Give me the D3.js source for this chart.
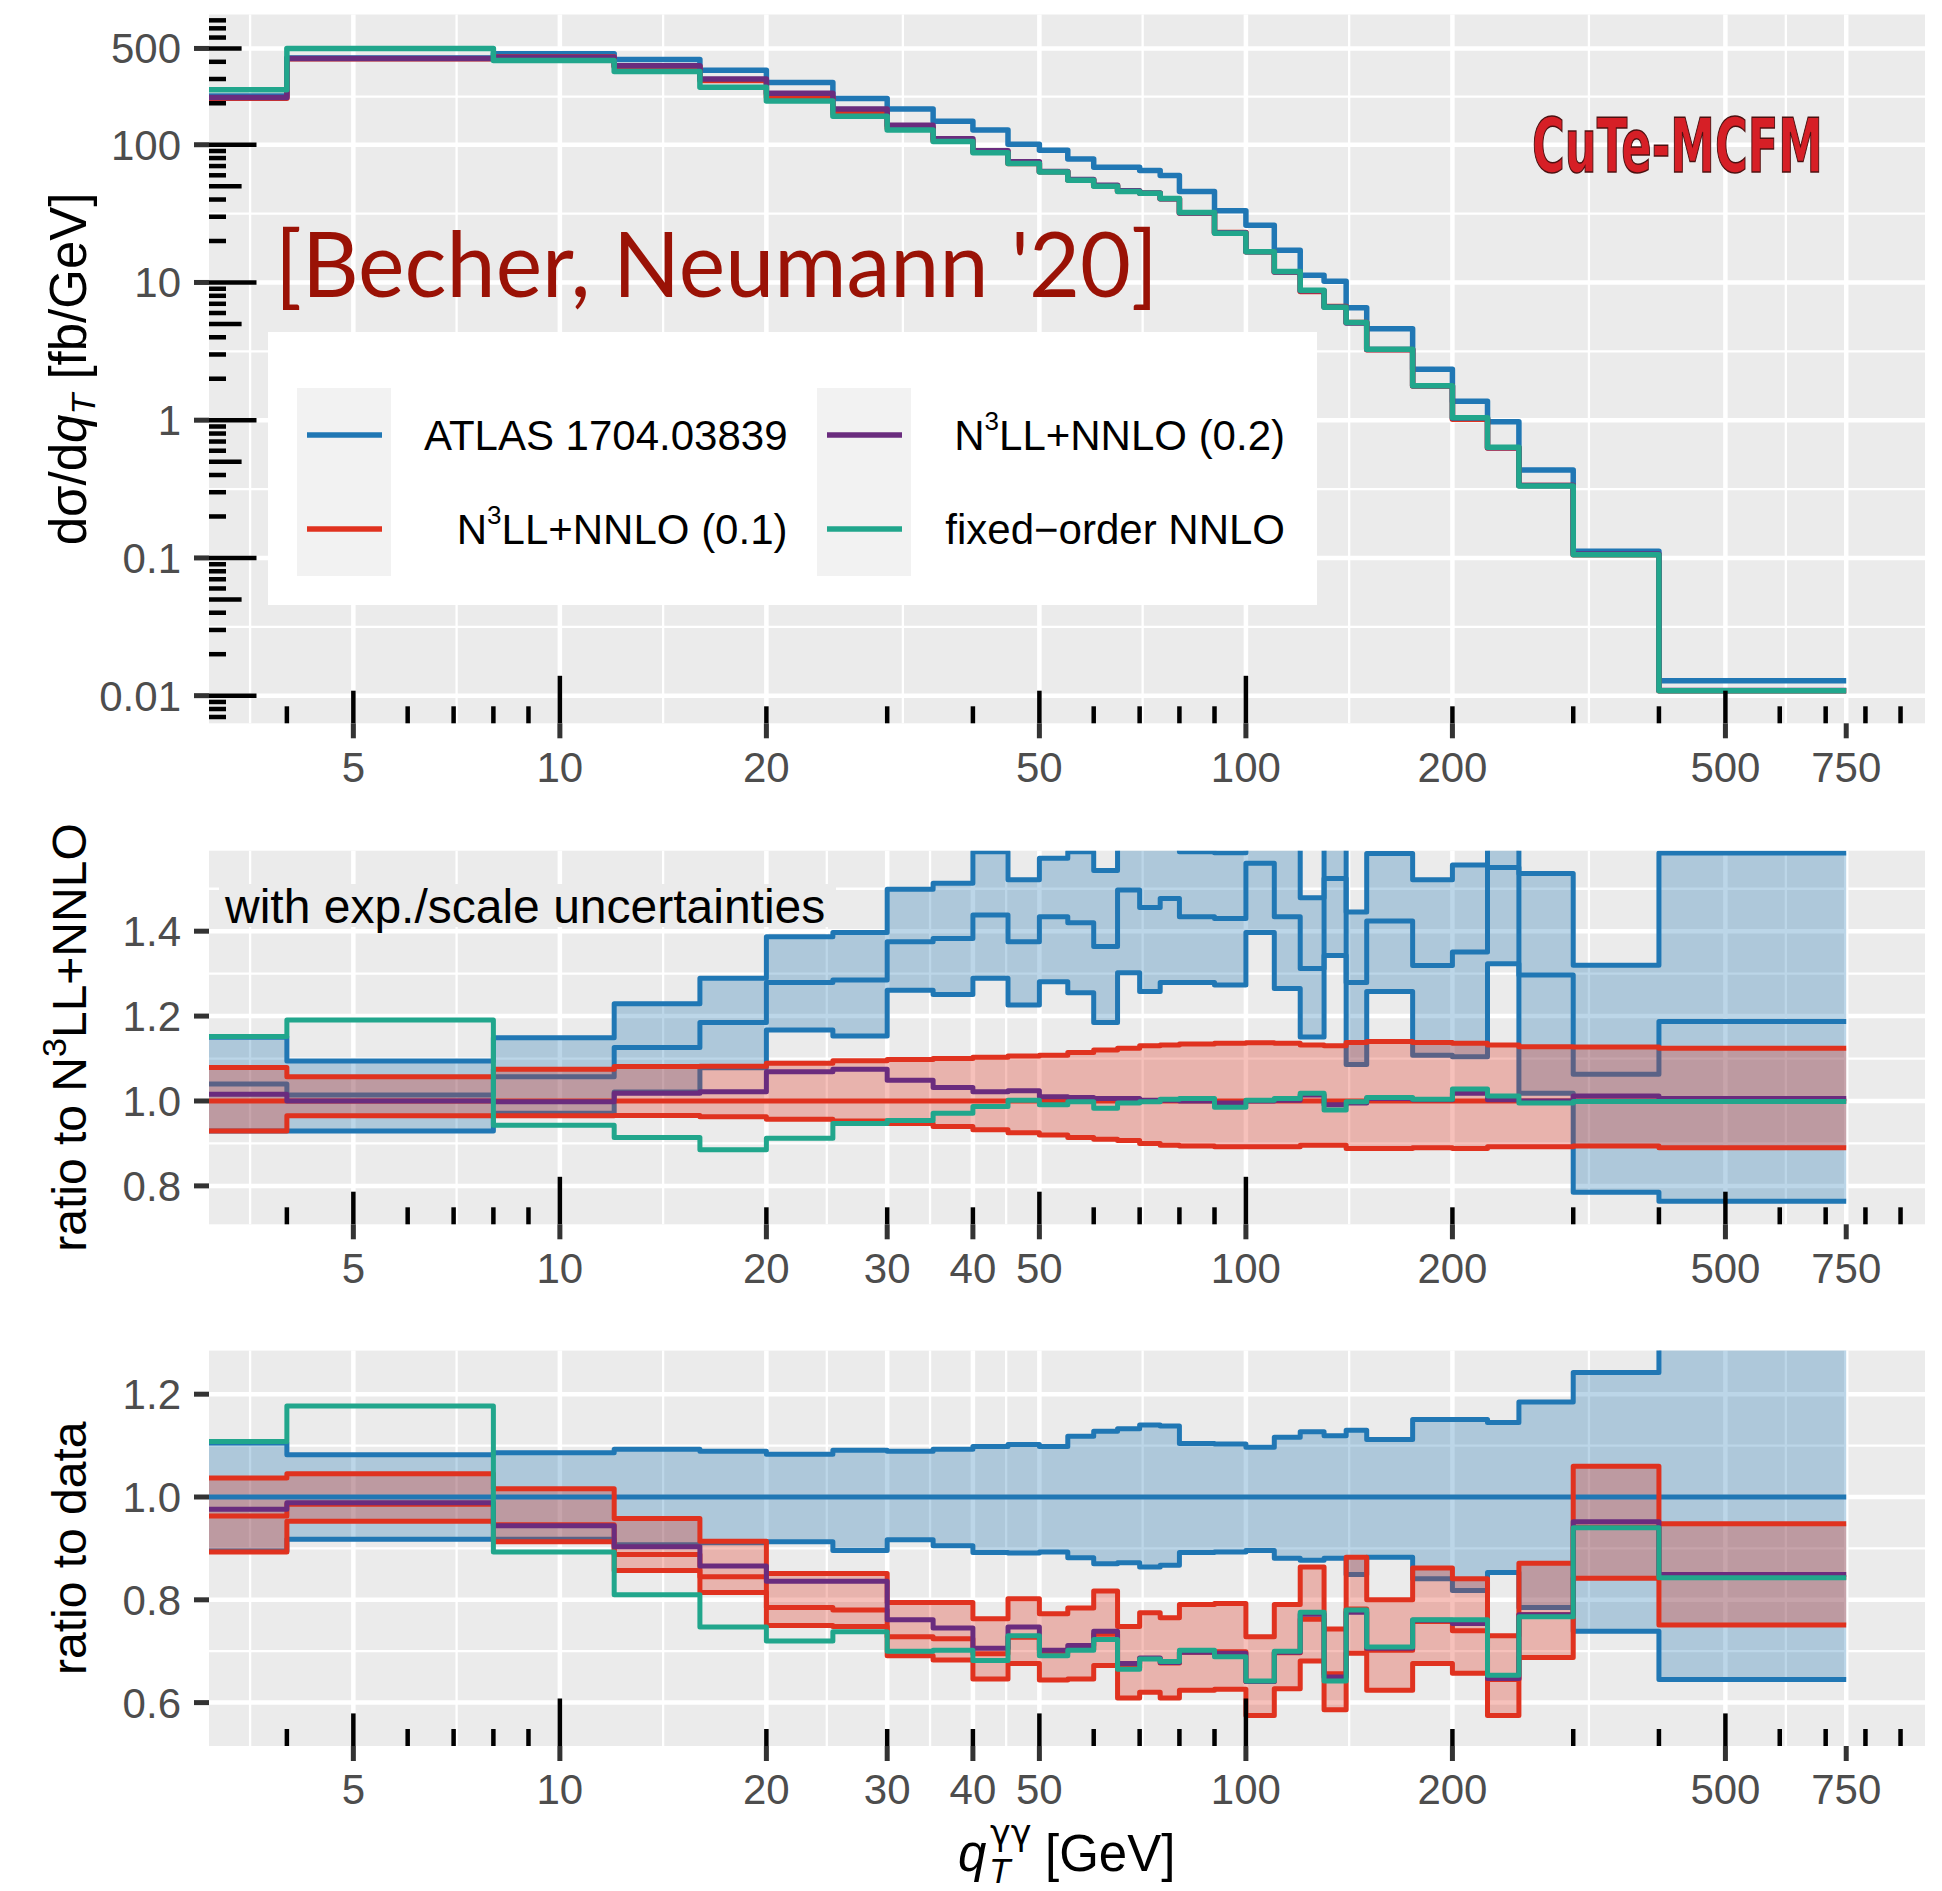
<!DOCTYPE html>
<html>
<head>
<meta charset="utf-8">
<script src="https://cdn.jsdelivr.net/npm/d3@7"></script>
<style>
body { margin:0; background:#fff; }
text { font-family: "Liberation Sans", Arial, Helvetica, sans-serif; }
</style>
</head>
<body>
<div id="chart-area"></div>
<script>
const width = 1942, height = 1891;

const colors = {atlas:'#2077b4', n3ll01:'#e0321f', n3ll02:'#6a2c7e', nnlo:'#21a68c'};

// bin edges in q_T [GeV]
const binEdges = [0,4,8,12,16,20,25,30,35,40,45,50,55,60,65,70,75,80,90,100,110,120,130,140,150,175,200,225,250,300,400,750];

// top panel: d sigma / d qT [fb/GeV]
const atlasXsec  = [226,427,458,415,347,283,217,182,148,128,100.6,91.2,78.8,68.7,68.7,64.9,59.8,45.8,33.1,26,17.1,11.3,10.2,6.55,4.62,2.34,1.37,0.975,0.434,0.112,0.01285];
const n3ll01Xsec = [217.6,421,433.3,368.5,293.2,222.2,169.3,132.5,107.2,89.0,73.1,63.6,55.5,50.4,45.9,44.5,40.5,32.0,23.1,16.7,11.9,8.61,6.69,5.12,3.24,1.774,1.014,0.629,0.335,0.1054,0.01085];
const n3ll02Xsec = [220.6,422.3,432.4,374.7,300.5,236.6,181.4,138.5,110.3,90.4,75.1,64.0,56.0,50.8,46.4,44.6,40.5,32.0,23.0,16.7,11.9,8.72,6.63,5.08,3.26,1.778,1.033,0.631,0.335,0.1066,0.01091];
const nnloXsec   = [251,500,409,340,261,208,161,128,105.5,87.3,73,63.5,55.3,50,45.7,44.5,40.7,32.2,22.8,16.7,12.0,8.77,6.6,5.11,3.27,1.78,1.043,0.637,0.333,0.1053,0.01084];

// middle panel: ratio to N3LL+NNLO (0.1)
const atlasMidC  = [1.040,1.014,1.057,1.126,1.185,1.279,1.285,1.375,1.383,1.438,1.375,1.434,1.420,1.364,1.497,1.456,1.477,1.434,1.430,1.560,1.434,1.312,1.524,1.279,1.424,1.319,1.351,1.550,1.297,1.063,1.187];
const atlasMidUp = [1.150,1.094,1.149,1.229,1.289,1.387,1.397,1.499,1.513,1.587,1.521,1.572,1.587,1.543,1.696,1.660,1.675,1.587,1.585,1.711,1.600,1.479,1.706,1.445,1.583,1.521,1.556,1.775,1.536,1.320,1.584];
const atlasMidDn = [0.929,0.929,0.971,1.021,1.078,1.167,1.153,1.261,1.251,1.289,1.226,1.281,1.255,1.185,1.302,1.258,1.279,1.279,1.273,1.397,1.265,1.151,1.343,1.086,1.258,1.108,1.104,1.323,1.018,0.785,0.764];
const n3ll01MidC  = [1,1,1,1,1,1,1,1,1,1,1,1,1,1,1,1,1,1,1,1,1,1,1,1,1,1,1,1,1,1,1];
const n3ll01MidUp = [1.079,1.057,1.075,1.081,1.082,1.089,1.095,1.098,1.100,1.103,1.106,1.108,1.114,1.120,1.124,1.130,1.132,1.134,1.136,1.137,1.136,1.132,1.130,1.138,1.140,1.138,1.136,1.132,1.128,1.127,1.124];
const n3ll01MidDn = [0.929,0.965,0.965,0.966,0.963,0.957,0.953,0.947,0.940,0.932,0.925,0.920,0.914,0.910,0.907,0.900,0.896,0.894,0.892,0.892,0.892,0.896,0.896,0.888,0.888,0.890,0.888,0.892,0.892,0.894,0.890];
const n3ll02Mid = [1.016,1.000,0.998,1.018,1.022,1.069,1.075,1.049,1.032,1.022,1.024,1.010,1.008,1.006,1.006,1.002,1.002,1.000,0.995,1.000,1.002,1.014,0.991,0.995,1.006,1.003,1.018,1.003,1.000,1.012,1.006];
const nnloMid   = [1.152,1.191,0.943,0.914,0.885,0.912,0.947,0.954,0.971,0.987,1.002,0.991,0.998,0.983,0.995,0.998,1.004,1.006,0.985,1.002,1.006,1.018,0.979,0.998,1.008,1.004,1.028,1.012,0.995,0.999,0.999];

// bottom panel: ratio to data
const atlasBotC  = [1,1,1,1,1,1,1,1,1,1,1,1,1,1,1,1,1,1,1,1,1,1,1,1,1,1,1,1,1,1,1];
const atlasBotUp = [1.105,1.082,1.086,1.093,1.089,1.083,1.091,1.089,1.093,1.098,1.102,1.098,1.118,1.128,1.133,1.140,1.138,1.104,1.103,1.097,1.116,1.127,1.119,1.130,1.112,1.151,1.151,1.145,1.185,1.242,1.337];
const atlasBotDn = [0.895,0.918,0.918,0.907,0.911,0.913,0.896,0.917,0.905,0.892,0.891,0.893,0.882,0.870,0.872,0.864,0.867,0.892,0.893,0.896,0.881,0.877,0.881,0.849,0.883,0.841,0.818,0.853,0.785,0.739,0.645];
const n3ll01BotC  = [0.963,0.986,0.946,0.888,0.845,0.785,0.780,0.728,0.724,0.695,0.727,0.697,0.704,0.733,0.668,0.686,0.677,0.698,0.699,0.641,0.697,0.762,0.656,0.782,0.702,0.758,0.740,0.645,0.771,0.941,0.844];
const n3ll01BotUp = [1.037,1.045,1.016,0.958,0.914,0.851,0.851,0.795,0.795,0.763,0.802,0.773,0.784,0.817,0.748,0.775,0.765,0.791,0.793,0.728,0.791,0.864,0.743,0.883,0.800,0.862,0.841,0.730,0.871,1.060,0.948];
const n3ll01BotDn = [0.893,0.953,0.913,0.857,0.814,0.750,0.748,0.691,0.683,0.646,0.676,0.644,0.646,0.672,0.609,0.620,0.609,0.624,0.626,0.575,0.627,0.681,0.586,0.696,0.624,0.676,0.657,0.575,0.688,0.842,0.751];
const n3ll02Bot = [0.976,0.989,0.944,0.903,0.866,0.836,0.836,0.761,0.745,0.706,0.747,0.702,0.711,0.739,0.676,0.687,0.678,0.698,0.696,0.641,0.698,0.772,0.650,0.776,0.706,0.760,0.754,0.647,0.771,0.952,0.849];
const nnloBot   = [1.108,1.177,0.893,0.810,0.747,0.720,0.738,0.700,0.702,0.682,0.730,0.691,0.702,0.723,0.665,0.685,0.680,0.702,0.689,0.642,0.700,0.776,0.642,0.780,0.708,0.761,0.761,0.653,0.767,0.940,0.843];

// ticks
const xTicksTop = [5,10,20,50,100,200,500,750];
const xTicksRatio = [5,10,20,30,40,50,100,200,500,750];
const yTicksTop = [0.01,0.1,1,10,100,500];
const yLabelsTop = ['0.01','0.1','1','10','100','500'];
const yTicksMid = [0.8,1.0,1.2,1.4];
const yLabelsMid = ['0.8','1.0','1.2','1.4'];
const yTicksBot = [0.6,0.8,1.0,1.2];
const yLabelsBot = ['0.6','0.8','1.0','1.2'];

const legendItems = [
  {key:'atlas', label:'ATLAS 1704.03839'},
  {key:'n3ll01', label:'N|3|LL+NNLO (0.1)'},
  {key:'n3ll02', label:'N|3|LL+NNLO (0.2)'},
  {key:'nnlo', label:'fixed\u2212order NNLO'}
];

const plotLeft = 209, plotRight = 1925;
const panels = {
  top: {y0:14.5, y1:723.3},
  mid: {y0:850.7, y1:1224.3},
  bot: {y0:1350.6, y1:1746}
};

var svg = d3.select("#chart-area").append("svg")
    .attr("width", width)
    .attr("height", height);
var defs = svg.append("defs");

var x = d3.scaleLog().domain([3.08, 977]).range([plotLeft, plotRight]);
var yTop = d3.scaleLog().domain([0.0063, 882]).range([panels.top.y1, panels.top.y0]);
var yMid = d3.scaleLinear().domain([0.7095, 1.5896]).range([panels.mid.y1, panels.mid.y0]);
var yBot = d3.scaleLinear().domain([0.5156, 1.2848]).range([panels.bot.y1, panels.bot.y0]);

var edgeX = (e) => x(Math.max(e, x.domain()[0]));

function stepPts(vals){
  var pts = vals.map((v,i) => [binEdges[i], v]);
  pts.push([binEdges[binEdges.length-1], vals[vals.length-1]]);
  return pts;
}
function bandPts(lo, hi){
  var pts = lo.map((v,i) => [binEdges[i], v, hi[i]]);
  pts.push([binEdges[binEdges.length-1], lo[lo.length-1], hi[hi.length-1]]);
  return pts;
}

// midpoints between major breaks (ggplot style minor grid)
function minorBreaks(majors, scale, isLog){
  var f = isLog ? Math.log10 : (v) => v;
  var inv = isLog ? (v) => Math.pow(10, v) : (v) => v;
  var b = majors.map(f);
  var bd = b[1] - b[0];
  b = [b[0]-bd].concat(b).concat([b[b.length-1]+bd]);
  var dom = scale.domain(), out = [];
  for (var i = 0; i < b.length-1; i++){
    var v = inv((b[i]+b[i+1])/2);
    if (v > dom[0] && v < dom[1]) out.push(v);
  }
  return out;
}

function logTicks(scale){
  var dom = scale.domain(), out = [];
  for (var k = Math.floor(Math.log10(dom[0])); k <= Math.ceil(Math.log10(dom[1])); k++){
    for (var m = 1; m <= 9; m++){
      var v = m * Math.pow(10, k);
      if (v >= dom[0] && v <= dom[1]) out.push({v:v, len: m == 1 ? 47.5 : (m == 5 ? 32.6 : 17)});
    }
  }
  return out;
}

// squeeze a text horizontally to a given width, keeping its left edge
function fitWidth(t, x0, y0, w){
  var len = t.node().getComputedTextLength();
  t.attr("x", 0).attr("y", 0)
   .attr("transform", "translate(" + x0 + "," + y0 + ") scale(" + (w/len) + ",1)");
}

function drawFrame(name, y, yLog, xTicks, yTicks, yLabels){
  var p = panels[name];
  var g = svg.append("g");
  g.append("rect")
   .attr("x", plotLeft).attr("y", p.y0)
   .attr("width", plotRight-plotLeft).attr("height", p.y1-p.y0)
   .attr("fill", "#ebebeb");

  // minor grid
  minorBreaks(xTicks, x, true).forEach(function(v){
    g.append("line").attr("x1", x(v)).attr("x2", x(v)).attr("y1", p.y0).attr("y2", p.y1)
     .attr("stroke", "#fff").attr("stroke-width", 2.3);
  });
  minorBreaks(yTicks, y, yLog).forEach(function(v){
    g.append("line").attr("x1", plotLeft).attr("x2", plotRight).attr("y1", y(v)).attr("y2", y(v))
     .attr("stroke", "#fff").attr("stroke-width", 2.3);
  });
  // major grid
  xTicks.forEach(function(v){
    g.append("line").attr("x1", x(v)).attr("x2", x(v)).attr("y1", p.y0).attr("y2", p.y1)
     .attr("stroke", "#fff").attr("stroke-width", 4.5);
  });
  yTicks.forEach(function(v){
    g.append("line").attr("x1", plotLeft).attr("x2", plotRight).attr("y1", y(v)).attr("y2", y(v))
     .attr("stroke", "#fff").attr("stroke-width", 4.5);
  });

  // clip for data
  defs.append("clipPath").attr("id", "clip-" + name)
      .append("rect").attr("x", plotLeft).attr("y", p.y0)
      .attr("width", plotRight-plotLeft).attr("height", p.y1-p.y0);
  var data = svg.append("g").attr("clip-path", "url(#clip-" + name + ")");

  var deco = svg.append("g");
  // log ticks along bottom (and left for log y)
  logTicks(x).forEach(function(t){
    deco.append("line").attr("x1", x(t.v)).attr("x2", x(t.v))
        .attr("y1", p.y1).attr("y2", p.y1 - t.len)
        .attr("stroke", "#000").attr("stroke-width", 4.5);
  });
  if (yLog){
    logTicks(y).forEach(function(t){
      deco.append("line").attr("y1", y(t.v)).attr("y2", y(t.v))
          .attr("x1", plotLeft).attr("x2", plotLeft + t.len)
          .attr("stroke", "#000").attr("stroke-width", 4.5);
    });
  }

  // axis ticks and labels
  xTicks.forEach(function(v){
    deco.append("line").attr("x1", x(v)).attr("x2", x(v)).attr("y1", p.y1).attr("y2", p.y1+15)
        .attr("stroke", "#333").attr("stroke-width", 5);
    deco.append("text").attr("x", x(v)).attr("y", p.y1 + 58.4)
        .attr("text-anchor", "middle").attr("font-size", 42).attr("fill", "#4d4d4d")
        .text(v);
  });
  yTicks.forEach(function(v, i){
    deco.append("line").attr("x1", plotLeft-15).attr("x2", plotLeft).attr("y1", y(v)).attr("y2", y(v))
        .attr("stroke", "#333").attr("stroke-width", 5);
    deco.append("text").attr("x", 181).attr("y", y(v) + 15)
        .attr("text-anchor", "end").attr("font-size", 42).attr("fill", "#4d4d4d")
        .text(yLabels[i]);
  });
  return {data: data, deco: deco};
}

function stepLine(g, y, vals, color, w){
  var line = d3.line().x((d) => edgeX(d[0])).y((d) => y(d[1])).curve(d3.curveStepAfter);
  g.append("path").attr("d", line(stepPts(vals)))
   .attr("fill", "none").attr("stroke", color).attr("stroke-width", w || 5.5)
   .attr("stroke-linejoin", "round");
}
function stepBand(g, y, lo, hi, color){
  var area = d3.area().x((d) => edgeX(d[0])).y0((d) => y(d[1])).y1((d) => y(d[2])).curve(d3.curveStepAfter);
  g.append("path").attr("d", area(bandPts(lo, hi)))
   .attr("fill", color).attr("fill-opacity", 0.3).attr("stroke", "none");
}

// ---------- top panel ----------
var pTop = drawFrame("top", yTop, true, xTicksTop, yTicksTop, yLabelsTop);
stepLine(pTop.data, yTop, atlasXsec, colors.atlas);
stepLine(pTop.data, yTop, n3ll01Xsec, colors.n3ll01);
stepLine(pTop.data, yTop, n3ll02Xsec, colors.n3ll02);
stepLine(pTop.data, yTop, nnloXsec, colors.nnlo);

// ---------- middle panel ----------
var pMid = drawFrame("mid", yMid, false, xTicksRatio, yTicksMid, yLabelsMid);
stepBand(pMid.data, yMid, atlasMidDn, atlasMidUp, colors.atlas);
stepLine(pMid.data, yMid, atlasMidUp, colors.atlas, 5);
stepLine(pMid.data, yMid, atlasMidC, colors.atlas, 5);
stepLine(pMid.data, yMid, atlasMidDn, colors.atlas, 5);
stepBand(pMid.data, yMid, n3ll01MidDn, n3ll01MidUp, colors.n3ll01);
stepLine(pMid.data, yMid, n3ll01MidUp, colors.n3ll01, 5);
stepLine(pMid.data, yMid, n3ll01MidC, colors.n3ll01, 5);
stepLine(pMid.data, yMid, n3ll01MidDn, colors.n3ll01, 5);
stepLine(pMid.data, yMid, n3ll02Mid, colors.n3ll02, 5);
stepLine(pMid.data, yMid, nnloMid, colors.nnlo, 5);

// ---------- bottom panel ----------
var pBot = drawFrame("bot", yBot, false, xTicksRatio, yTicksBot, yLabelsBot);
stepBand(pBot.data, yBot, atlasBotDn, atlasBotUp, colors.atlas);
stepLine(pBot.data, yBot, atlasBotUp, colors.atlas, 5);
stepLine(pBot.data, yBot, atlasBotDn, colors.atlas, 5);
stepBand(pBot.data, yBot, n3ll01BotDn, n3ll01BotUp, colors.n3ll01);
stepLine(pBot.data, yBot, atlasBotC, colors.atlas, 5);
stepLine(pBot.data, yBot, n3ll01BotUp, colors.n3ll01, 5);
stepLine(pBot.data, yBot, n3ll01BotC, colors.n3ll01, 5);
stepLine(pBot.data, yBot, n3ll01BotDn, colors.n3ll01, 5);
stepLine(pBot.data, yBot, n3ll02Bot, colors.n3ll02, 5);
stepLine(pBot.data, yBot, nnloBot, colors.nnlo, 5);

// ---------- annotations ----------
var becher = svg.append("text")
   .attr("font-size", 91).attr("fill", "#9a1206")
   .style("font-family", "Lato, 'Open Sans', sans-serif")
   .text("[Becher, Neumann '20]");
fitWidth(becher, 275, 297, 883);

var logo = svg.append("text")
   .attr("font-size", 74).attr("font-weight", "bold")
   .style("font-family", "'DejaVu Sans', sans-serif")
   .attr("fill", "#d61f26").attr("stroke", "#4a1010").attr("stroke-width", 1.5)
   .text("CuTe-MCFM");
fitWidth(logo, 1532, 172, 291);

svg.append("rect").attr("x", 219).attr("y", 884).attr("width", 617).attr("height", 43).attr("fill", "#ebebeb");
svg.append("text").attr("x", 225).attr("y", 923)
   .attr("font-size", 48).attr("fill", "#000")
   .text("with exp./scale uncertainties");

// ---------- legend ----------
var lg = svg.append("g");
lg.append("rect").attr("x", 268).attr("y", 332).attr("width", 1049).attr("height", 273).attr("fill", "#fff");
legendItems.forEach(function(d, i){
  var col = Math.floor(i/2), row = i % 2;
  var kx = col == 0 ? 297 : 817;
  var ky = 388 + row*94;
  var tx = col == 0 ? 787.5 : 1285;
  lg.append("rect").attr("x", kx).attr("y", ky).attr("width", 94).attr("height", 94).attr("fill", "#f2f2f2");
  lg.append("line").attr("x1", kx+10).attr("x2", kx+85).attr("y1", ky+47).attr("y2", ky+47)
    .attr("stroke", colors[d.key]).attr("stroke-width", 5.5);
  var t = lg.append("text").attr("x", tx).attr("y", ky+62).attr("text-anchor", "end")
    .attr("font-size", 42).attr("fill", "#000");
  var parts = d.label.split("|");
  if (parts.length == 1) t.text(d.label);
  else {
    t.append("tspan").text(parts[0]);
    t.append("tspan").attr("font-size", 26).attr("dy", -20).text(parts[1]);
    t.append("tspan").attr("dy", 20).text(parts[2]);
  }
});

// ---------- axis titles ----------
function yTitle(cy, build){
  var t = svg.append("text").attr("transform", "translate(86," + cy + ") rotate(-90)")
    .attr("text-anchor", "middle").attr("font-size", 48).attr("fill", "#000");
  build(t);
  return t;
}
var tTop = yTitle((panels.top.y0+panels.top.y1)/2, function(t){
  t.append("tspan").text("d\u03c3/d");
  t.append("tspan").style("font-style", "italic").text("q");
  t.append("tspan").style("font-style", "italic").attr("font-size", 34).attr("dy", 9).text("T");
  t.append("tspan").attr("dy", -9).text("\u00a0[fb/GeV]");
});
tTop.attr("font-size", 51);
yTitle((panels.mid.y0+panels.mid.y1)/2, function(t){
  t.append("tspan").text("ratio to N");
  t.append("tspan").attr("font-size", 34).attr("dy", -20).text("3");
  t.append("tspan").attr("dy", 20).text("LL+NNLO");
});
yTitle((panels.bot.y0+panels.bot.y1)/2, function(t){
  t.text("ratio to data");
});

// x title: q_T^{gamma gamma} [GeV]
var xt = svg.append("g").attr("transform", "translate(958,1871)");
xt.append("text").attr("x", 0).attr("y", 0).attr("font-size", 51).style("font-style", "italic").text("q");
xt.append("text").attr("x", 31).attr("y", 12).attr("font-size", 35).style("font-style", "italic").text("T");
xt.append("text").attr("x", 32).attr("y", -26).attr("font-size", 35)
  .style("font-family", "'DejaVu Sans', sans-serif").text("\u03b3\u03b3");
xt.append("text").attr("x", 87).attr("y", 0).attr("font-size", 51).text("[GeV]");
</script>
</body>
</html>
